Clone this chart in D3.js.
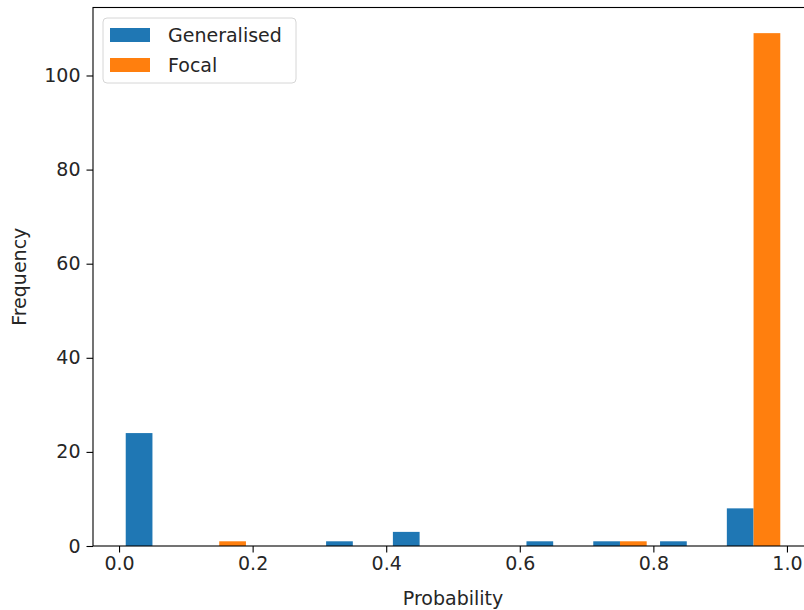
<!DOCTYPE html>
<html lang="en">
<head>
    <meta charset="UTF-8">
    <title>Probability histogram</title>
    <script src="https://d3js.org/d3.v7.min.js"></script>
    <style>
        body { margin: 0; background: #fff; }
        text { font-family: "DejaVu Sans", sans-serif; fill: #262626; }
    </style>
</head>
<body>
    <div id="chart"></div>

    <script>
        // Histogram bins (left edges) and counts per series
        const binEdges = [0.0, 0.1, 0.2, 0.3, 0.4, 0.5, 0.6, 0.7, 0.8, 0.9, 1.0];
        const generalised = [24, 0, 0, 1, 3, 0, 1, 1, 1, 8];
        const focal = [0, 1, 0, 0, 0, 0, 0, 1, 0, 109];
        const seriesNames = ["Generalised", "Focal"];
        const seriesColors = ["#1f77b4", "#ff7f0e"];
        const xTicks = [0.0, 0.2, 0.4, 0.6, 0.8, 1.0];
        const yTicks = [0, 20, 40, 60, 80, 100];

        const width = 804;
        const height = 610;
        const fontSize = 19;
        const tickLen = 6.5;

        // Plot area (right edge runs past the window, as in the cropped original)
        const plot = { left: 93, right: 813, top: 7.5, bottom: 546 };

        const svg = d3.select("#chart")
            .append("svg")
            .attr("width", width)
            .attr("height", height);

        // bars are 0.8 of the bin, split between the two series
        const nSeries = 2;
        const rwidth = 0.8;
        const bars = [];
        [generalised, focal].forEach((counts, s) => {
            counts.forEach((c, i) => {
                const w = binEdges[i + 1] - binEdges[i];
                const barW = w * rwidth / nSeries;
                const x0 = binEdges[i] + w * (1 - rwidth) / 2 + s * barW;
                bars.push({ x0: x0, x1: x0 + barW, count: c, s: s });
            });
        });

        const xMin = d3.min(bars, d => d.x0);
        const xMax = d3.max(bars, d => d.x1);
        const xPad = (xMax - xMin) * 0.05;
        const yMax = d3.max(bars, d => d.count) * 1.05;

        const x = d3.scaleLinear()
            .domain([xMin - xPad, xMax + xPad])
            .range([plot.left, plot.right]);

        const y = d3.scaleLinear()
            .domain([0, yMax])
            .range([plot.bottom, plot.top]);

        // Bars
        svg.append("g")
            .selectAll("rect")
            .data(bars.filter(d => d.count > 0))
            .join("rect")
            .attr("x", d => x(d.x0))
            .attr("y", d => y(d.count))
            .attr("width", d => x(d.x1) - x(d.x0))
            .attr("height", d => y(0) - y(d.count))
            .attr("fill", d => seriesColors[d.s]);

        // Axes
        const xAxis = svg.append("g")
            .attr("transform", `translate(0,${plot.bottom})`)
            .call(d3.axisBottom(x)
                .tickValues(xTicks)
                .tickFormat(d3.format(".1f"))
                .tickSize(tickLen)
                .tickPadding(4.5)
                .tickSizeOuter(0));
        xAxis.select(".domain").remove();

        const yAxis = svg.append("g")
            .attr("transform", `translate(${plot.left},0)`)
            .call(d3.axisLeft(y)
                .tickValues(yTicks)
                .tickSize(tickLen)
                .tickPadding(6)
                .tickSizeOuter(0));
        yAxis.select(".domain").remove();

        [xAxis, yAxis].forEach(g => {
            g.selectAll(".tick line").attr("stroke", "#000").attr("stroke-width", 1.1);
            g.selectAll(".tick text")
                .style("font-size", fontSize + "px")
                .style("font-family", "DejaVu Sans")
                .attr("fill", "#262626");
        });

        // Frame
        svg.append("rect")
            .attr("x", plot.left)
            .attr("y", plot.top)
            .attr("width", plot.right - plot.left)
            .attr("height", plot.bottom - plot.top)
            .attr("fill", "none")
            .attr("stroke", "#000")
            .attr("stroke-width", 1.1);

        // Axis labels
        svg.append("text")
            .attr("x", (plot.left + plot.right) / 2)
            .attr("y", 605)
            .attr("text-anchor", "middle")
            .style("font-size", fontSize + "px")
            .text("Probability");

        svg.append("text")
            .attr("transform", `translate(26,${(plot.top + plot.bottom) / 2}) rotate(-90)`)
            .attr("text-anchor", "middle")
            .style("font-size", fontSize + "px")
            .text("Frequency");

        // Legend
        const legend = svg.append("g");
        legend.append("rect")
            .attr("x", 103)
            .attr("y", 18)
            .attr("width", 193)
            .attr("height", 65)
            .attr("rx", 4)
            .attr("fill", "#fff")
            .attr("fill-opacity", 0.8)
            .attr("stroke", "#d6d6d6");

        seriesNames.forEach((name, i) => {
            const cy = 35 + i * 30;
            legend.append("rect")
                .attr("x", 110)
                .attr("y", cy - 7)
                .attr("width", 40)
                .attr("height", 14)
                .attr("fill", seriesColors[i]);
            legend.append("text")
                .attr("x", 168)
                .attr("y", cy + 6.5)
                .style("font-size", fontSize + "px")
                .text(name);
        });
    </script>
</body>
</html>
